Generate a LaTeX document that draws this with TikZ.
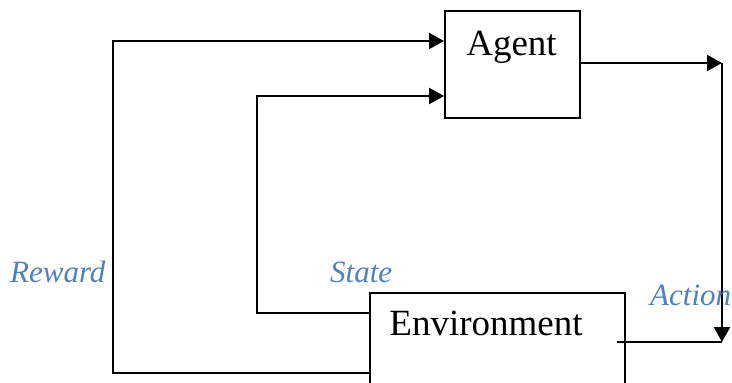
\documentclass[tikz,border=0pt]{standalone}
\usepackage{fontspec}
\setmainfont{Liberation Serif}
\usetikzlibrary{arrows.meta}
\definecolor{lblue}{HTML}{4F81BD}
\begin{document}
\begin{tikzpicture}[x=1pt,y=-1pt,
  box/.style={draw, line width=2.2pt, inner sep=0pt, anchor=north west},
  conn/.style={line width=2.4pt},
  arr/.style={conn, -{Triangle[length=15pt,width=16pt]}},
  boxtxt/.style={font=\fontsize{37}{37}\selectfont, inner sep=0pt, anchor=base},
  lbl/.style={text=lblue, font=\fontsize{31}{31}\selectfont\itshape, inner sep=0pt, anchor=base west}]
\useasboundingbox (0,0) rectangle (732,383);
\clip (0,0) rectangle (732,383);
\node[box, minimum width=135pt, minimum height=107pt] (agent) at (444,10) {};
\node[boxtxt] (agenttxt) at (511.5,55) {Agent};
\node[box, minimum width=255pt, minimum height=120pt] (env) at (369,292) {};
\node[boxtxt] (envtxt) at (486,335) {Environment};
% reward loop
\coordinate (rb) at (113,373);
\coordinate (rt) at (113,41);
\draw[arr] (env.west |- rb) -- (rb) -- (rt) -- (agent.west |- rt);
% state loop
\coordinate (sb) at (257,313);
\coordinate (st) at (257,96);
\draw[arr] (env.west |- sb) -- (sb) -- (st) -- (agent.west |- st);
% action
\coordinate (at) at (722,63);
\coordinate (ab) at (722,342);
\coordinate (ae) at (617,342);
\draw[arr] (agent.east |- at) -- (at);
\draw[arr] (at) -- (ab);
\draw[conn] (ae) -- (ab);
% labels
\node[lbl] (reward) at (10,282) {Reward};
\node[lbl] (state) at (330,282) {State};
\node[lbl] (action) at (650,305) {Action};
\end{tikzpicture}
\end{document}
